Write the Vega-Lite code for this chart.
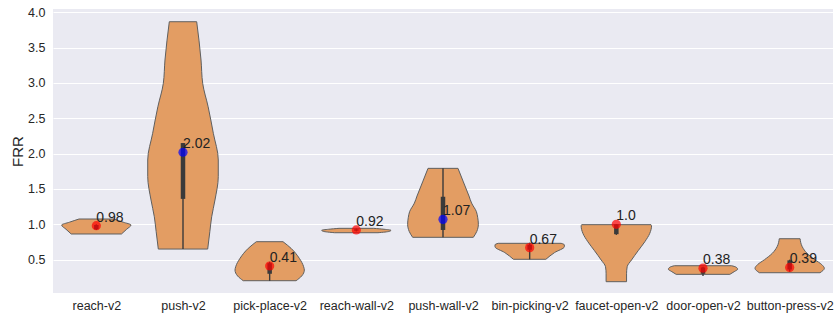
{
  "$schema": "https://vega.github.io/schema/vega-lite/v6.json",
  "width": 780,
  "height": 284,
  "autosize": {"type": "none"},
  "padding": {"left": 53, "top": 9, "right": 1, "bottom": 23},
  "background": "white",
  "config": {
    "view": {"fill": "#EAEAF2", "stroke": null},
    "font": "Liberation Sans",
    "axis": {"domain": false, "ticks": false, "labelFont": "Liberation Sans", "titleFont": "Liberation Sans", "labelColor": "#262626", "titleColor": "#262626", "titleFontWeight": "normal"}
  },
  "datasets": {
    "violins": [
      {"task": "reach-v2", "frr": 0.863, "lo": -0.29, "hi": 0.29},
      {"task": "reach-v2", "frr": 0.93, "lo": -0.35, "hi": 0.35},
      {"task": "reach-v2", "frr": 0.99, "lo": -0.40, "hi": 0.40},
      {"task": "reach-v2", "frr": 1.03, "lo": -0.31, "hi": 0.31},
      {"task": "reach-v2", "frr": 1.075, "lo": -0.20, "hi": 0.20},
      {"task": "push-v2", "frr": 0.65, "lo": 0.715, "hi": 1.285},
      {"task": "push-v2", "frr": 0.9, "lo": 0.69, "hi": 1.31},
      {"task": "push-v2", "frr": 1.107, "lo": 0.669, "hi": 1.331},
      {"task": "push-v2", "frr": 1.344, "lo": 0.631, "hi": 1.369},
      {"task": "push-v2", "frr": 1.674, "lo": 0.593, "hi": 1.407},
      {"task": "push-v2", "frr": 1.91, "lo": 0.593, "hi": 1.407},
      {"task": "push-v2", "frr": 2.288, "lo": 0.65, "hi": 1.35},
      {"task": "push-v2", "frr": 2.664, "lo": 0.71, "hi": 1.29},
      {"task": "push-v2", "frr": 2.995, "lo": 0.773, "hi": 1.227},
      {"task": "push-v2", "frr": 3.325, "lo": 0.792, "hi": 1.208},
      {"task": "push-v2", "frr": 3.867, "lo": 0.842, "hi": 1.158},
      {"task": "pick-place-v2", "frr": 0.202, "lo": 1.695, "hi": 2.305},
      {"task": "pick-place-v2", "frr": 0.268, "lo": 1.631, "hi": 2.369},
      {"task": "pick-place-v2", "frr": 0.353, "lo": 1.60, "hi": 2.40},
      {"task": "pick-place-v2", "frr": 0.40, "lo": 1.608, "hi": 2.392},
      {"task": "pick-place-v2", "frr": 0.519, "lo": 1.658, "hi": 2.342},
      {"task": "pick-place-v2", "frr": 0.66, "lo": 1.753, "hi": 2.247},
      {"task": "pick-place-v2", "frr": 0.754, "lo": 1.846, "hi": 2.154},
      {"task": "reach-wall-v2", "frr": 0.881, "lo": 2.75, "hi": 3.25},
      {"task": "reach-wall-v2", "frr": 0.90, "lo": 2.62, "hi": 3.38},
      {"task": "reach-wall-v2", "frr": 0.915, "lo": 2.60, "hi": 3.40},
      {"task": "reach-wall-v2", "frr": 0.93, "lo": 2.68, "hi": 3.32},
      {"task": "reach-wall-v2", "frr": 0.943, "lo": 2.80, "hi": 3.20},
      {"task": "push-wall-v2", "frr": 0.816, "lo": 3.65, "hi": 4.35},
      {"task": "push-wall-v2", "frr": 0.90, "lo": 3.61, "hi": 4.39},
      {"task": "push-wall-v2", "frr": 1.00, "lo": 3.592, "hi": 4.408},
      {"task": "push-wall-v2", "frr": 1.10, "lo": 3.60, "hi": 4.40},
      {"task": "push-wall-v2", "frr": 1.18, "lo": 3.615, "hi": 4.385},
      {"task": "push-wall-v2", "frr": 1.30, "lo": 3.67, "hi": 4.33},
      {"task": "push-wall-v2", "frr": 1.40, "lo": 3.70, "hi": 4.30},
      {"task": "push-wall-v2", "frr": 1.60, "lo": 3.765, "hi": 4.235},
      {"task": "push-wall-v2", "frr": 1.792, "lo": 3.827, "hi": 4.173},
      {"task": "bin-picking-v2", "frr": 0.505, "lo": 4.813, "hi": 5.187},
      {"task": "bin-picking-v2", "frr": 0.60, "lo": 4.713, "hi": 5.287},
      {"task": "bin-picking-v2", "frr": 0.683, "lo": 4.60, "hi": 5.40},
      {"task": "bin-picking-v2", "frr": 0.71, "lo": 4.60, "hi": 5.40},
      {"task": "bin-picking-v2", "frr": 0.731, "lo": 4.637, "hi": 5.363},
      {"task": "faucet-open-v2", "frr": 0.188, "lo": 5.882, "hi": 6.118},
      {"task": "faucet-open-v2", "frr": 0.30, "lo": 5.882, "hi": 6.118},
      {"task": "faucet-open-v2", "frr": 0.40, "lo": 5.875, "hi": 6.125},
      {"task": "faucet-open-v2", "frr": 0.495, "lo": 5.825, "hi": 6.175},
      {"task": "faucet-open-v2", "frr": 0.627, "lo": 5.748, "hi": 6.252},
      {"task": "faucet-open-v2", "frr": 0.754, "lo": 5.671, "hi": 6.329},
      {"task": "faucet-open-v2", "frr": 0.873, "lo": 5.614, "hi": 6.386},
      {"task": "faucet-open-v2", "frr": 0.976, "lo": 5.594, "hi": 6.406},
      {"task": "faucet-open-v2", "frr": 0.995, "lo": 5.60, "hi": 6.40},
      {"task": "door-open-v2", "frr": 0.292, "lo": 6.69, "hi": 7.31},
      {"task": "door-open-v2", "frr": 0.33, "lo": 6.64, "hi": 7.36},
      {"task": "door-open-v2", "frr": 0.365, "lo": 6.60, "hi": 7.40},
      {"task": "door-open-v2", "frr": 0.395, "lo": 6.62, "hi": 7.38},
      {"task": "door-open-v2", "frr": 0.414, "lo": 6.67, "hi": 7.33},
      {"task": "button-press-v2", "frr": 0.315, "lo": 7.65, "hi": 8.35},
      {"task": "button-press-v2", "frr": 0.377, "lo": 7.60, "hi": 8.40},
      {"task": "button-press-v2", "frr": 0.43, "lo": 7.63, "hi": 8.37},
      {"task": "button-press-v2", "frr": 0.50, "lo": 7.71, "hi": 8.29},
      {"task": "button-press-v2", "frr": 0.59, "lo": 7.80, "hi": 8.20},
      {"task": "button-press-v2", "frr": 0.683, "lo": 7.855, "hi": 8.145},
      {"task": "button-press-v2", "frr": 0.796, "lo": 7.88, "hi": 8.12}
    ],
    "stats": [
      {"task": "reach-v2", "idx": 0, "med": 0.98, "label": "0.98", "wlo": 0.92, "whi": 1.0, "q1": 0.93, "q3": 0.99},
      {"task": "push-v2", "idx": 1, "med": 2.02, "label": "2.02", "wlo": 0.65, "whi": 2.15, "q1": 1.36, "q3": 2.15},
      {"task": "pick-place-v2", "idx": 2, "med": 0.41, "label": "0.41", "wlo": 0.2, "whi": 0.47, "q1": 0.3, "q3": 0.45},
      {"task": "reach-wall-v2", "idx": 3, "med": 0.92, "label": "0.92", "wlo": 0.9, "whi": 0.94, "q1": 0.91, "q3": 0.93},
      {"task": "push-wall-v2", "idx": 4, "med": 1.07, "label": "1.07", "wlo": 0.816, "whi": 1.792, "q1": 0.92, "q3": 1.39},
      {"task": "bin-picking-v2", "idx": 5, "med": 0.67, "label": "0.67", "wlo": 0.505, "whi": 0.74, "q1": 0.64, "q3": 0.71},
      {"task": "faucet-open-v2", "idx": 6, "med": 1.0, "label": "1.0", "wlo": 0.85, "whi": 1.0, "q1": 0.86, "q3": 1.0},
      {"task": "door-open-v2", "idx": 7, "med": 0.38, "label": "0.38", "wlo": 0.27, "whi": 0.4, "q1": 0.3, "q3": 0.39},
      {"task": "button-press-v2", "idx": 8, "med": 0.39, "label": "0.39", "wlo": 0.33, "whi": 0.5, "q1": 0.36, "q3": 0.49}
    ]
  },
  "encoding": {
    "x": {
      "type": "quantitative",
      "scale": {"domain": [-0.5, 8.5], "nice": false, "zero": false},
      "axis": {
        "title": null, "grid": false, "values": [0, 1, 2, 3, 4, 5, 6, 7, 8],
        "labelExpr": "['reach-v2','push-v2','pick-place-v2','reach-wall-v2','push-wall-v2','bin-picking-v2','faucet-open-v2','door-open-v2','button-press-v2'][datum.value]",
        "labelFontSize": 12.5, "labelPadding": 6
      }
    },
    "y": {
      "type": "quantitative",
      "scale": {"domain": [0.028, 4.047], "nice": false, "zero": false},
      "axis": {
        "title": "FRR", "titleFontSize": 15, "titlePadding": 2,
        "values": [0.5, 1, 1.5, 2, 2.5, 3, 3.5, 4], "format": ".1f",
        "grid": true, "gridColor": "white", "gridWidth": 1,
        "labelFontSize": 12.5, "labelPadding": 8
      }
    }
  },
  "layer": [
    {
      "data": {"name": "violins"},
      "mark": {"type": "area", "orient": "horizontal", "interpolate": "monotone", "fill": "#E39D63", "fillOpacity": 1, "stroke": "#5f5f5f", "strokeWidth": 1},
      "encoding": {
        "y": {"field": "frr", "type": "quantitative"},
        "x": {"field": "lo", "type": "quantitative"},
        "x2": {"field": "hi"},
        "detail": {"field": "task"}
      }
    },
    {
      "mark": {"type": "rule", "color": "#3c3c3c", "strokeWidth": 1.1},
      "encoding": {"y": {"datum": 1}}
    },
    {
      "data": {"name": "stats"},
      "mark": {"type": "rule", "color": "#3a3a3a", "strokeWidth": 1.4},
      "encoding": {
        "x": {"field": "idx", "type": "quantitative"},
        "y": {"field": "wlo", "type": "quantitative"},
        "y2": {"field": "whi"}
      }
    },
    {
      "data": {"name": "stats"},
      "mark": {"type": "rule", "color": "#3a3a3a", "strokeWidth": 4.5},
      "encoding": {
        "x": {"field": "idx", "type": "quantitative"},
        "y": {"field": "q1", "type": "quantitative"},
        "y2": {"field": "q3"}
      }
    },
    {
      "data": {"name": "stats"},
      "mark": {"type": "point", "filled": true, "size": 85, "opacity": 0.7},
      "encoding": {
        "x": {"field": "idx", "type": "quantitative"},
        "y": {"field": "med", "type": "quantitative"},
        "color": {"condition": {"test": "datum.med > 1", "value": "#0000ff"}, "value": "#ff0000"}
      }
    },
    {
      "data": {"name": "stats"},
      "mark": {"type": "text", "align": "left", "baseline": "alphabetic", "dy": -4, "fontSize": 14, "color": "#222222", "font": "Liberation Sans"},
      "encoding": {
        "x": {"field": "idx", "type": "quantitative"},
        "y": {"field": "med", "type": "quantitative"},
        "text": {"field": "label"}
      }
    }
  ]
}
